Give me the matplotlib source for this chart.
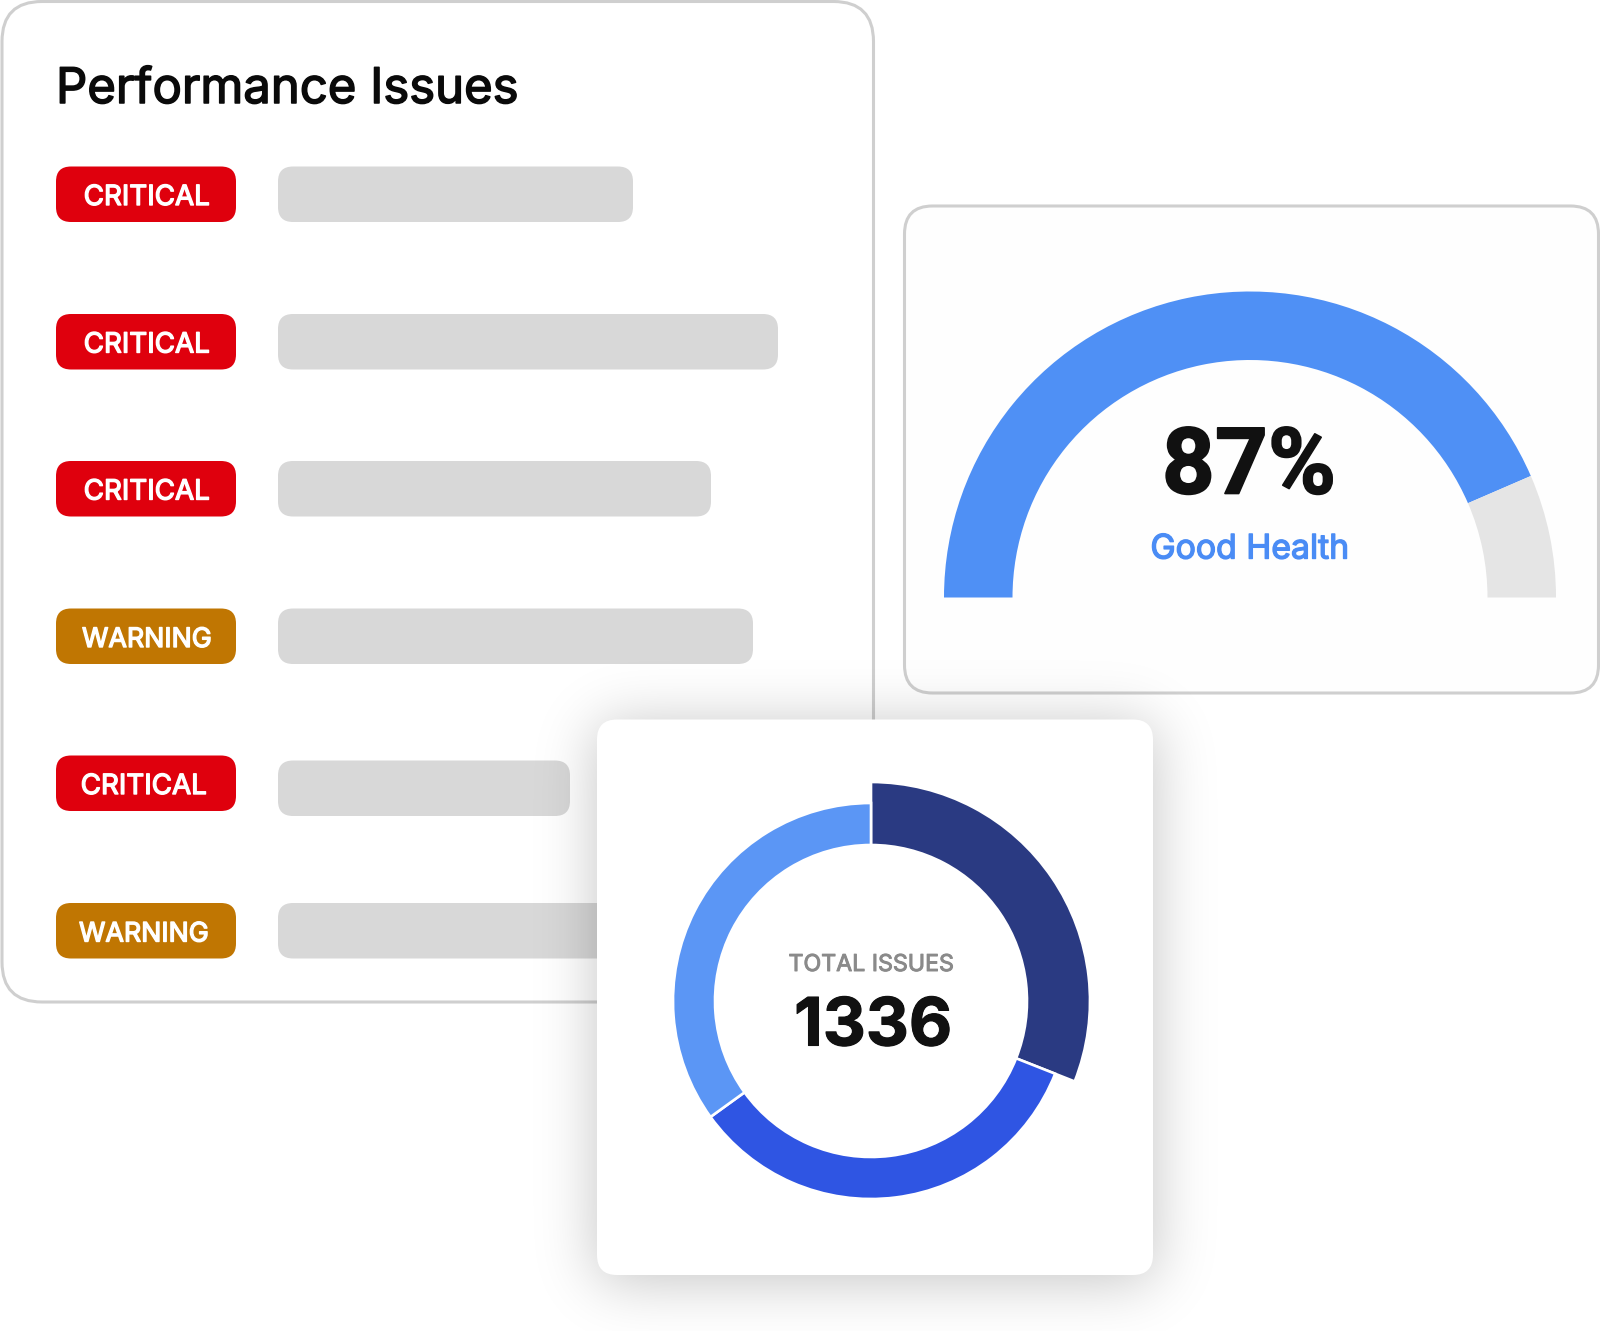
import math
import numpy as np
import matplotlib
matplotlib.use("Agg")
import matplotlib.pyplot as plt
from matplotlib.patches import FancyBboxPatch, Wedge
import matplotlib.patheffects as pe

# Issue rows
row_labels = ["CRITICAL", "CRITICAL", "CRITICAL", "WARNING", "CRITICAL", "WARNING"]
bar_lengths = [355, 500, 433, 475, 292, 560]

# Gauge
health_pct = 87
health_label = "Good Health"

# Donut
issue_counts = [414, 455, 467]
total_issues = 1336

badge_colors = {"CRITICAL": "#DF000D", "WARNING": "#C07602"}
donut_colors = ["#2A3A82", "#2F55E3", "#5B96F5"]
donut_outer = [219, 198, 198]
row_tops = [166.5, 314, 461, 608.5, 755.5, 903]
bar_shift = [0, 0, 0, 0, 5, 0]
label_x = [147, 147, 147, 147, 144, 144]

plt.rcParams["font.family"] = ["Inter", "DejaVu Sans"]

fig = plt.figure(figsize=(16, 13.31), dpi=100, facecolor="white")
ax = fig.add_axes([0, 0, 1, 1])
ax.set_axis_off()


def rbox(x0, y0, x1, y1, r, fc, ec="none", lw=0, z=1):
    p = FancyBboxPatch((x0, y0), x1 - x0, y1 - y0, boxstyle=f"round,pad=0,rounding_size={r}",
                       fc=fc, ec=ec, lw=lw, zorder=z)
    ax.add_patch(p)


def heavy(w, col):
    # only the regular cut is picked up, so thicken the glyphs with a stroke
    return [pe.withStroke(linewidth=w, foreground=col)]


# left panel
rbox(2, 1.5, 873.5, 1002, 40, "white", "#CFCFCF", 2.2, z=1)
ax.text(56, 103, "Performance Issues", fontsize=35.3, color="#0A0A0A", va="baseline", zorder=2,
        path_effects=heavy(1.1, "#0A0A0A"))

for i, label in enumerate(row_labels):
    top = row_tops[i]
    rbox(56, top, 236, top + 55.5, 15, badge_colors[label], z=2)
    size = 20 if label == "CRITICAL" else 19.3
    ax.text(label_x[i], top + 38.5, label, fontsize=size, color="white", ha="center", va="baseline",
            zorder=3, path_effects=heavy(1.0, "white"))
    bt = top + bar_shift[i]
    rbox(278, bt, 278 + bar_lengths[i], bt + 55.5, 15, "#D8D8D8", z=2)

# gauge panel
rbox(904.5, 206, 1598.5, 693, 28, "#FEFEFE", "#CFCFCF", 2.2, z=1)
gauge_c = (1250, 597.5)
split = 180 + 180 * health_pct / 100
ax.add_patch(Wedge(gauge_c, 306, 180, split, width=68.5, fc="#4F90F5", ec="none", zorder=2))
ax.add_patch(Wedge(gauge_c, 306, split, 360, width=68.5, fc="#E5E5E5", ec="none", zorder=2))
ax.text(1249, 493.5, f"{health_pct}%", fontsize=66.5, family=["Roboto", "DejaVu Sans"], color="#111111", ha="center",
        va="baseline", fontweight="bold", zorder=3, path_effects=heavy(1.2, "#111111"))
ax.text(1250, 558.5, health_label, fontsize=24.3, color="#4A8CF5", ha="center", va="baseline",
        zorder=3, path_effects=heavy(1.0, "#4A8CF5"))

# soft shadow under the donut card
ys = np.arange(600, 1331)
xs = np.arange(480, 1280)
sigma = 30
erf = np.vectorize(math.erf)
fx = 0.5 * (erf((xs - 597) / (sigma * 2 ** 0.5)) - erf((xs - 1153) / (sigma * 2 ** 0.5)))
fy = 0.5 * (erf((ys - 724) / (sigma * 2 ** 0.5)) - erf((ys - 1280) / (sigma * 2 ** 0.5)))
shadow = np.zeros((len(ys), len(xs), 4))
shadow[..., 3] = 0.24 * np.outer(fy, fx)
ax.imshow(shadow, extent=(480, 1280, 1331, 600), origin="upper", aspect="auto", zorder=4)

# donut card
rbox(597, 719.5, 1153, 1275, 20, "white", z=5)
donut_c = (871, 1001)
start = -90
for val, col, r in zip(issue_counts, donut_colors, donut_outer):
    sweep = 360 * val / sum(issue_counts)
    ax.add_patch(Wedge(donut_c, r, start, start + sweep, width=r - 156, fc=col, ec="white", lw=1.9, zorder=6))
    start += sweep
ax.text(871, 971, "TOTAL ISSUES", fontsize=16.7, color="#8A8A8A", ha="center", va="baseline",
        zorder=7, path_effects=heavy(0.7, "#8A8A8A"))
ax.text(873, 1045.5, str(total_issues), fontsize=48, color="#111111", ha="center", va="baseline",
        fontweight="bold", zorder=7, path_effects=heavy(0.8, "#111111"))

ax.set_xlim(0, 1600)
ax.set_ylim(1331, 0)
fig.savefig("out.png", dpi=100)
